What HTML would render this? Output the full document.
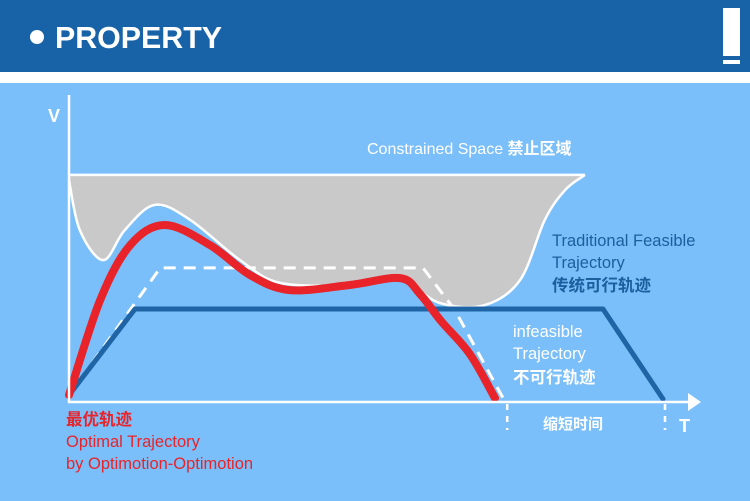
<!DOCTYPE html>
<html><head><meta charset="utf-8"><style>
body{margin:0;width:750px;height:501px;overflow:hidden;background:#7abff9;font-family:"Liberation Sans","Noto Sans CJK SC",sans-serif}
</style></head><body>
<svg width="750" height="501" style="display:block">
<rect x="0" y="0" width="750" height="72" fill="#1863a8"/>
<rect x="0" y="72" width="750" height="11" fill="#ffffff"/>
<circle cx="37" cy="37" r="7" fill="#fff"/>
<text x="55" y="48" font-size="31" font-weight="bold" fill="#fff" textLength="167" lengthAdjust="spacingAndGlyphs">PROPERTY</text>
<rect x="723" y="8" width="17" height="48" fill="#fff"/>
<rect x="723" y="60" width="17" height="4" fill="#fff"/>
<g id="plot"></g>
<text x="48" y="122" font-size="18" font-weight="bold" fill="#fff">V</text>
<text x="679" y="432" font-size="18" font-weight="bold" fill="#fff">T</text>
<text x="367" y="154" font-size="16" fill="#fff">Constrained Space <tspan font-weight="bold">禁止区域</tspan></text>
<g font-size="16.5" fill="#1b5f9f">
<text x="552" y="246">Traditional Feasible</text><text x="552" y="268">Trajectory</text><text x="552" y="291" font-weight="bold">传统可行轨迹</text></g>
<g font-size="16.5" fill="#fff">
<text x="513" y="337">infeasible</text><text x="513" y="359">Trajectory</text><text x="513" y="383" font-weight="bold">不可行轨迹</text></g>
<g font-size="16.5" fill="#e8232a">
<text x="66" y="425" font-weight="bold">最优轨迹</text><text x="66" y="447">Optimal Trajectory</text><text x="66" y="469">by Optimotion-Optimotion</text></g>
<text x="543" y="429" font-size="15" font-weight="bold" fill="#fff">缩短时间</text>
</svg>
<script>
const grayT=[0,1.8,5.7,9.3,14.3,20.2,28.5,35.2,46.8,55.2,61.8,69.3,75.2,79.3,82.7,86];
const grayV=[74,57.3,47.3,57.3,65.7,60.7,47.3,39.7,39,40.7,33,32.3,40.7,60.7,70.7,75.7];
const grayTop=75.7;
const blueT=[0,11,89,99];
const blueV=[2.3,31,31,1];
const dashT=[0,15.2,59,64.3,72.7];
const dashV=[2.3,44.7,44.7,30.7,0];
const redT=[0,5.2,10.2,16,23.5,30.2,36.8,46.8,55.2,58.5,62,66.8,71];
const redV=[2.3,34,52.3,59,52.3,42.3,37.3,39,41.3,36,27,16,1.3];
const x=t=>69+t*6, y=v=>402-v*3;
const NS='http://www.w3.org/2000/svg', g=document.getElementById('plot');
function mk(tag,a){const e=document.createElementNS(NS,tag);for(const k in a)e.setAttribute(k,a[k]);g.appendChild(e);return e;}
function smooth(T,V){const p=T.map((t,i)=>[x(t),y(V[i])]);let d=`M${p[0][0]},${p[0][1]}`;
for(let i=0;i<p.length-1;i++){const p0=p[i-1]||p[i],p1=p[i],p2=p[i+1],p3=p[i+2]||p2;
d+=`C${p1[0]+(p2[0]-p0[0])/6},${p1[1]+(p2[1]-p0[1])/6} ${p2[0]-(p3[0]-p1[0])/6},${p2[1]-(p3[1]-p1[1])/6} ${p2[0]},${p2[1]}`;}return d;}
function poly(T,V){return T.map((t,i)=>(i?'L':'M')+x(t)+','+y(V[i])).join('');}
const gd=smooth(grayT,grayV);
let e=mk('path',{d:gd+`L${x(grayT[grayT.length-1])},${y(grayTop)}L${x(0)},${y(grayTop)}Z`,fill:'#c9c9c9'});


e=mk('path',{d:gd,fill:'none',stroke:'#fff','stroke-width':2.5});


e=mk('line',{x1:x(0),y1:y(grayTop),x2:x(grayT[grayT.length-1]),y2:y(grayTop),stroke:'#fff','stroke-width':2.5});


e=mk('path',{d:poly(dashT,dashV),fill:'none',stroke:'#fff','stroke-width':3,'stroke-dasharray':'12 8'});


e=mk('path',{d:poly(blueT,blueV),fill:'none',stroke:'#1f65a6','stroke-width':5,'stroke-linejoin':'round','stroke-linecap':'round'});


e=mk('path',{d:smooth(redT,redV),fill:'none',stroke:'#e8232a','stroke-width':8,'stroke-linecap':'round'});


e=mk('line',{x1:69,y1:95,x2:69,y2:403,stroke:'#fff','stroke-width':2.5});


e=mk('line',{x1:68,y1:402,x2:690,y2:402,stroke:'#fff','stroke-width':2.5});


e=mk('path',{d:'M688,393L701,402L688,411Z',fill:'#fff'});


[dashT[dashT.length-1],blueT[blueT.length-1]].forEach(t=>{
const l=mk('line',{x1:x(t)+2,y1:404,x2:x(t)+2,y2:430,stroke:'#fff','stroke-width':2.5,'stroke-dasharray':'6 6'});

});
</script>
</body></html>
